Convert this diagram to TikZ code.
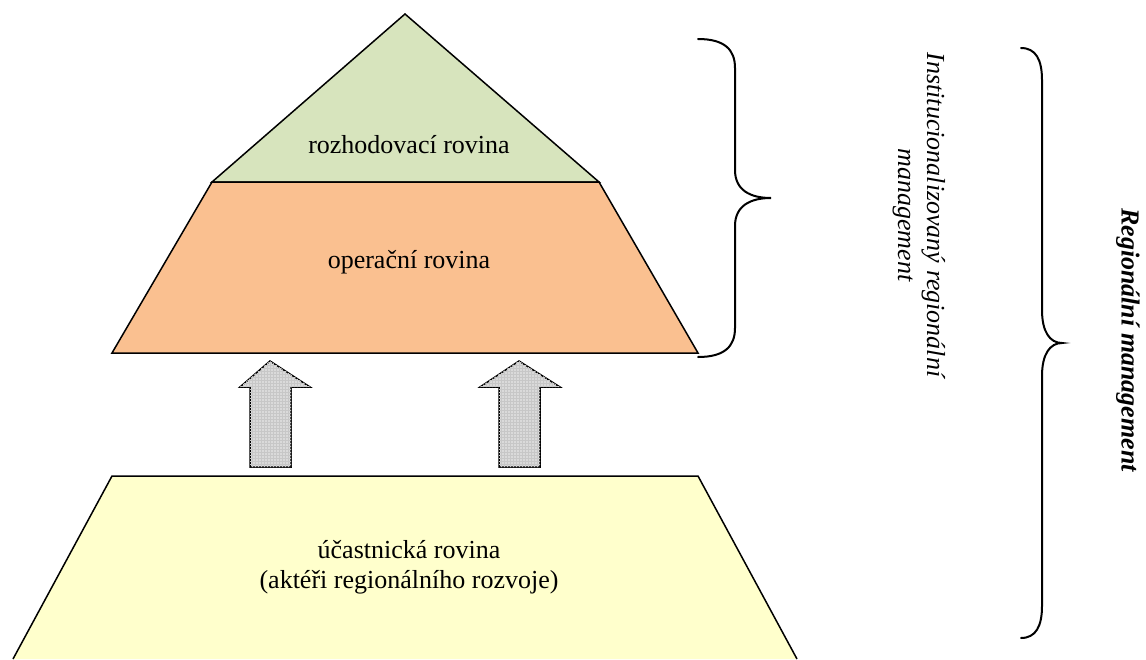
\documentclass[tikz,border=0pt]{standalone}
\usepackage{fontspec}
\setmainfont{Liberation Serif}
\usetikzlibrary{patterns}
\definecolor{topgreen}{HTML}{D7E4BD}
\definecolor{midorange}{HTML}{FAC090}
\definecolor{lowyellow}{HTML}{FFFFCC}
\definecolor{arrowgray}{HTML}{DADADA}
\begin{document}
\begin{tikzpicture}[x=1pt,y=-1pt,
  layer/.style={draw=black, line width=1.5pt, line join=miter},
  uparrow/.style={draw=black, line width=1.5pt, fill=arrowgray, line join=miter,
    postaction={pattern=grid, pattern color=black!22}},
  bracepath/.style={draw=black, line width=2pt, line cap=round},
  lbl/.style={font=\fontsize{26}{30}\selectfont, align=center, inner sep=0pt},
  sidelbl/.style={font=\fontsize{26}{29}\selectfont\itshape, align=center, inner sep=0pt, rotate=-90},
  mainlbl/.style={font=\fontsize{26}{29}\selectfont\bfseries\itshape, inner sep=0pt, rotate=-90}]
\useasboundingbox (0,0) rectangle (1146,659);
% top triangle
\filldraw[layer, fill=topgreen] (405,14) -- (599,182) -- (212,182) -- cycle;
% middle trapezoid
\filldraw[layer, fill=midorange] (212,182) -- (599,182) -- (698,353) -- (112,353) -- cycle;
% bottom trapezoid
\fill[lowyellow] (112,476) -- (698,476) -- (797,659) -- (13,659) -- cycle;
\draw[layer] (13,659) -- (112,476) -- (698,476) -- (797,659);
% arrows
\filldraw[uparrow] (250,467) -- (250,387) -- (240,387) -- (270,361) -- (310,387) -- (291,387) -- (291,467) -- cycle;
\filldraw[uparrow] (499,467) -- (499,387) -- (480,387) -- (519,361) -- (560,387) -- (540,387) -- (540,467) -- cycle;
% labels
\node[lbl] (rozh) at (409,145) {rozhodovací rovina};
\node[lbl] (oper) at (409,262) {operační rovina};
\node[lbl] (ucast) at (409,567) {účastnická rovina\\(aktéři regionálního rozvoje)};
% brace 1
\coordinate (b1top) at (698,39);
\coordinate (b1tip) at (771,198);
\coordinate (b1bot) at (698,357);
\draw[bracepath] (b1top) .. controls (725,39) and (735,50) .. (735,68)
  -- (735,170) .. controls (735,190) and (750,198) .. (b1tip)
  .. controls (750,198) and (735,206) .. (735,226)
  -- (735,328) .. controls (735,346) and (725,357) .. (b1bot);
% brace 2
\coordinate (b2top) at (1021,48);
\coordinate (b2tip) at (1062,343);
\coordinate (b2bot) at (1021,638);
\draw[bracepath] (b2top) .. controls (1036,48) and (1042,60) .. (1042,80)
  -- (1042,310) .. controls (1042,332) and (1050,343) .. (b2tip)
  .. controls (1050,343) and (1042,354) .. (1042,376)
  -- (1042,606) .. controls (1042,626) and (1036,638) .. (b2bot);
% side labels
\node[sidelbl] (inst) at (919,215) {Institucionalizovaný regionální\\management};
\node[mainlbl] (reg) at (1128,340) {Regionální management};
\end{tikzpicture}
\end{document}
